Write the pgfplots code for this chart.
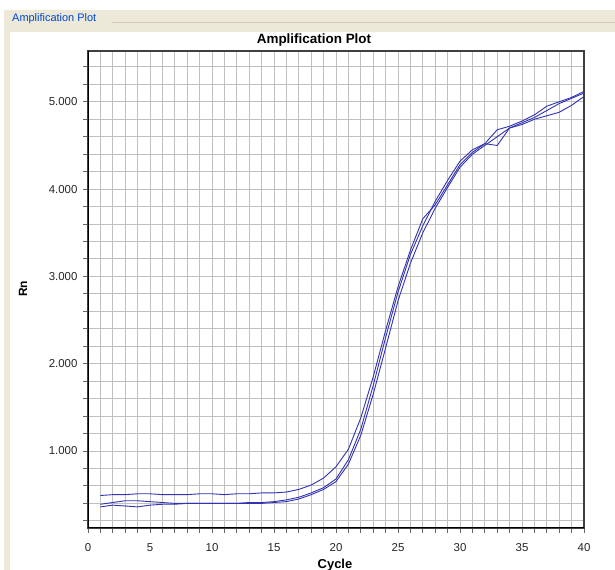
\documentclass[border=0pt]{standalone}
\usepackage{fontspec}
\setmainfont{Liberation Sans}
\usepackage{pgfplots}
\usepackage{pgfplotstable}
\pgfplotsset{compat=1.18}

\definecolor{panel}{RGB}{236,233,216}
\definecolor{panelline}{RGB}{210,204,184}
\definecolor{xpblue}{RGB}{0,70,213}
\definecolor{curve}{RGB}{50,50,178}
\definecolor{gridgray}{RGB}{192,192,192}

% Rn per cycle, three wells
\pgfplotstableread{
cyc a    b    c
1   0.49 0.39 0.36
2   0.50 0.41 0.38
3   0.50 0.43 0.37
4   0.51 0.43 0.36
5   0.51 0.42 0.38
6   0.50 0.41 0.39
7   0.50 0.40 0.39
8   0.50 0.40 0.40
9   0.51 0.40 0.40
10  0.51 0.40 0.40
11  0.50 0.40 0.40
12  0.51 0.40 0.40
13  0.51 0.41 0.40
14  0.52 0.41 0.40
15  0.52 0.42 0.41
16  0.53 0.44 0.42
17  0.56 0.47 0.45
18  0.61 0.52 0.50
19  0.69 0.58 0.56
20  0.82 0.68 0.65
21  1.02 0.90 0.85
22  1.38 1.25 1.18
23  1.85 1.75 1.65
24  2.38 2.30 2.18
25  2.88 2.82 2.72
26  3.30 3.25 3.15
27  3.66 3.58 3.50
28  3.82 3.86 3.78
29  4.05 4.10 4.02
30  4.28 4.32 4.25
31  4.42 4.45 4.40
32  4.52 4.52 4.50
33  4.68 4.50 4.60
34  4.72 4.70 4.70
35  4.78 4.76 4.74
36  4.85 4.82 4.80
37  4.95 4.90 4.84
38  5.00 4.98 4.88
39  5.05 5.04 4.96
40  5.12 5.10 5.06
}\rn

\begin{document}
\begin{tikzpicture}[x=1bp,y=1bp]
\useasboundingbox (0,0) rectangle (615,570);
\fill[white] (0,0) rectangle (615,570);
% window panel
\fill[panel] (4,0) rectangle (615,560);
\fill[white] (10,0) rectangle (615,538);
\draw[panelline, line width=1bp] (112,547) -- (615,547);
\node[anchor=west, text=xpblue, inner sep=0, font=\fontsize{11}{13}\selectfont] at (12,551) {Amplification Plot};

\begin{axis}[
  at={(88bp,42bp)}, anchor=south west,
  scale only axis,
  width=496bp, height=477bp,
  xmin=0, xmax=40,
  ymin=0.118, ymax=5.582,
  xtick={0,5,...,40},
  minor xtick={1,2,3,4,6,7,8,9,11,12,13,14,16,17,18,19,21,22,23,24,26,27,28,29,31,32,33,34,36,37,38,39},
  ytick={1,2,3,4,5},
  minor ytick={0.2,0.4,0.6,0.8,1.2,1.4,1.6,1.8,2.2,2.4,2.6,2.8,3.2,3.4,3.6,3.8,4.2,4.4,4.6,4.8,5.2,5.4},
  grid=both,
  major grid style={gridgray, line width=0.9bp},
  minor grid style={gridgray, line width=0.9bp},
  tick align=outside, tick pos=left,
  major tick length=5bp, minor tick length=5bp,
  tick style={black!60, line width=0.9bp},
  axis line style={black!75, line width=1.5bp},
  /pgf/number format/assume math mode=true,
  ticklabel style={font=\fontsize{11.5}{13}\selectfont, text=black!85},
  yticklabel style={xshift=-2bp, /pgf/number format/fixed, /pgf/number format/fixed zerofill, /pgf/number format/precision=3},
  xticklabel style={yshift=-7bp},
]
\addplot[curve, line width=0.9bp, no markers] table[x=cyc, y=a] {\rn};
\addplot[curve, line width=0.9bp, no markers] table[x=cyc, y=b] {\rn};
\addplot[curve, line width=0.9bp, no markers] table[x=cyc, y=c] {\rn};
\draw[black, line width=2bp] (rel axis cs:0,1) -- (rel axis cs:0,0) -- (rel axis cs:1,0);
\end{axis}

\node[font=\bfseries\fontsize{13.5}{15}\selectfont] at (314,530) {Amplification Plot};
\node[font=\bfseries\fontsize{13}{15}\selectfont] at (335,5) {Cycle};
\node[rotate=90, font=\bfseries\fontsize{12}{14}\selectfont] at (23,281) {Rn};
\end{tikzpicture}
\end{document}
